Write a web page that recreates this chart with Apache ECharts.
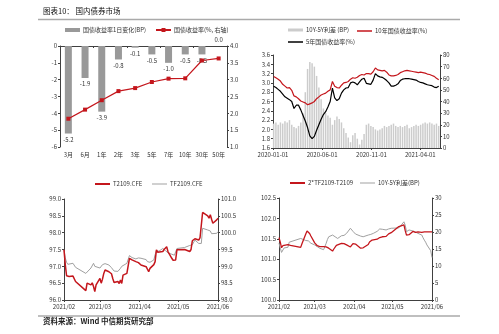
<!DOCTYPE html>
<html><head><meta charset="utf-8">
<script src="https://cdn.jsdelivr.net/npm/echarts@6/dist/echarts.min.js"></script>
<style>html,body{margin:0;padding:0;background:#fff}#c{width:499px;height:334px}</style>
</head><body><div id="c"></div>
<script>
// ---------- Panel 1: yield curve ----------
const tenors = ['3月','6月','1年','2年','3年','5年','7年','10年','30年','50年'];
const bpChange = [-5.2,-1.9,-3.9,-0.8,-0.1,-0.5,-1.0,-0.5,-0.5,0.0];
const yieldPct = [1.84,2.11,2.39,2.66,2.75,2.93,3.03,3.04,3.57,3.63];

// ---------- Panel 2: weekly 2020-01 .. 2021-05 ----------
const weeks = ['2020-01-03','2020-01-10','2020-01-17','2020-01-24','2020-01-31','2020-02-07','2020-02-14','2020-02-21','2020-02-28','2020-03-06','2020-03-13','2020-03-20','2020-03-27','2020-04-03','2020-04-10','2020-04-17','2020-04-24','2020-05-01','2020-05-08','2020-05-15','2020-05-22','2020-05-29','2020-06-05','2020-06-12','2020-06-19','2020-06-26','2020-07-03','2020-07-10','2020-07-17','2020-07-24','2020-07-31','2020-08-07','2020-08-14','2020-08-21','2020-08-28','2020-09-04','2020-09-11','2020-09-18','2020-09-25','2020-10-02','2020-10-09','2020-10-16','2020-10-23','2020-10-30','2020-11-06','2020-11-13','2020-11-20','2020-11-27','2020-12-04','2020-12-11','2020-12-18','2020-12-25','2021-01-01','2021-01-08','2021-01-15','2021-01-22','2021-01-29','2021-02-05','2021-02-12','2021-02-19','2021-02-26','2021-03-05','2021-03-12','2021-03-19','2021-03-26','2021-04-02','2021-04-09','2021-04-16','2021-04-23','2021-04-30','2021-05-07','2021-05-14','2021-05-21','2021-05-28'];
const y10 = [3.14,3.11,3.08,3.04,2.97,2.93,2.89,2.90,2.84,2.72,2.70,2.66,2.61,2.59,2.57,2.53,2.55,2.57,2.60,2.66,2.70,2.74,2.76,2.78,2.82,2.85,3.03,2.93,2.90,2.89,2.95,3.00,3.01,3.03,3.08,3.11,3.10,3.12,3.16,3.18,3.17,3.20,3.20,3.19,3.24,3.32,3.28,3.27,3.26,3.27,3.23,3.17,3.15,3.15,3.16,3.18,3.22,3.24,3.26,3.27,3.26,3.25,3.24,3.23,3.22,3.23,3.22,3.21,3.19,3.18,3.16,3.14,3.10,3.07];
const y5 = [2.93,2.90,2.86,2.82,2.76,2.70,2.67,2.64,2.60,2.45,2.52,2.52,2.42,2.30,2.18,2.04,1.86,1.80,1.85,1.98,2.10,2.22,2.32,2.38,2.48,2.60,2.89,2.68,2.62,2.66,2.78,2.85,2.89,2.90,3.00,3.02,3.00,2.96,3.02,3.08,3.10,2.99,2.98,2.97,3.06,3.20,3.15,3.13,3.12,3.09,3.05,3.00,2.93,2.93,2.95,2.98,3.05,3.08,3.09,3.09,3.09,3.08,3.07,3.06,3.03,3.01,3.00,2.98,2.96,2.95,2.94,2.91,2.90,2.93];
const spreadBp = [21,22,20,22,21,23,22,24,20,18,17,19,22,30,48,68,74,73,70,62,52,42,34,30,28,26,20,24,27,25,22,17,13,9,5,11,13,8,3,7,12,20,21,19,18,16,15,16,17,19,18,19,20,21,19,18,19,18,19,20,17,18,19,20,19,20,21,22,21,22,21,20,21,19];

// ---------- Panels 3 & 4: daily 2021-02 .. 2021-06 ----------
const days = ['2021-02-01','2021-02-02','2021-02-03','2021-02-04','2021-02-05','2021-02-08','2021-02-09','2021-02-10','2021-02-18','2021-02-19','2021-02-22','2021-02-23','2021-02-24','2021-02-25','2021-02-26',
'2021-03-01','2021-03-02','2021-03-03','2021-03-04','2021-03-05','2021-03-08','2021-03-09','2021-03-10','2021-03-11','2021-03-12','2021-03-15','2021-03-16','2021-03-17','2021-03-18','2021-03-19','2021-03-22','2021-03-23','2021-03-24','2021-03-25','2021-03-26','2021-03-29','2021-03-30','2021-03-31',
'2021-04-01','2021-04-02','2021-04-06','2021-04-07','2021-04-08','2021-04-09','2021-04-12','2021-04-13','2021-04-14','2021-04-15','2021-04-16','2021-04-19','2021-04-20','2021-04-21','2021-04-22','2021-04-23','2021-04-26','2021-04-27','2021-04-28','2021-04-29','2021-04-30',
'2021-05-06','2021-05-07','2021-05-10','2021-05-11','2021-05-12','2021-05-13','2021-05-14','2021-05-17','2021-05-18','2021-05-19','2021-05-20','2021-05-21','2021-05-24','2021-05-25','2021-05-26','2021-05-27','2021-05-28','2021-05-31','2021-06-01'];
const t2109 = [97.49,97.05,96.72,96.69,96.70,96.71,96.74,96.55,96.28,96.50,96.45,96.51,96.40,96.25,96.45,
96.64,96.50,96.62,96.79,96.89,96.84,96.89,96.78,96.64,96.52,96.55,96.49,96.59,96.49,96.74,96.79,96.80,97.24,97.20,97.19,97.14,97.09,97.11,
97.09,97.04,96.99,96.95,96.84,96.94,97.05,97.14,97.49,97.42,97.39,97.44,97.50,97.55,97.58,97.44,97.24,97.18,97.14,97.19,97.49,
97.50,97.53,97.44,97.50,97.76,97.80,97.82,97.78,97.85,97.80,98.60,98.58,98.50,98.43,98.53,98.40,98.28,98.38,98.43];
const tf2109 = [99.49,99.25,99.12,99.06,99.04,99.09,99.05,98.97,98.79,98.84,98.95,98.98,99.09,99.00,99.04,
98.95,99.00,99.05,99.09,99.08,99.04,99.00,98.96,98.92,98.86,98.85,98.88,98.94,99.00,99.04,99.09,99.10,99.32,99.28,99.26,99.22,99.24,99.25,
99.26,99.24,99.20,99.14,99.10,99.12,99.19,99.35,99.46,99.44,99.45,99.53,99.49,99.47,99.44,99.40,99.36,99.34,99.33,99.38,99.53,
99.56,99.58,99.62,99.63,99.64,99.66,99.78,99.68,99.69,99.68,100.13,100.10,100.08,100.06,100.05,99.97,99.93,99.98,100.03];
const basisSpread = [101.53,101.42,101.28,101.33,101.35,101.36,101.35,101.34,101.29,101.38,101.62,101.69,101.68,101.63,101.57,
101.40,101.36,101.33,101.31,101.31,101.31,101.31,101.30,101.28,101.27,101.20,101.25,101.29,101.34,101.36,101.39,101.37,101.38,101.36,101.35,101.30,101.33,101.38,
101.39,101.37,101.27,101.27,101.28,101.30,101.36,101.42,101.44,101.47,101.46,101.49,101.51,101.53,101.55,101.55,101.56,101.59,101.62,101.66,101.65,
101.80,101.82,101.84,101.70,101.59,101.58,101.60,101.68,101.70,101.66,101.68,101.67,101.66,101.66,101.67,101.67,101.67,101.67,101.67];
const spreadDaily = [16.7,15.3,14.0,14.5,15.3,15.5,17.0,17.5,18.1,18.0,17.5,17.2,17.4,16.9,16.7,
16.2,16.0,15.7,15.4,15.2,14.8,15.0,16.7,17.8,18.6,19.1,18.8,18.6,18.3,18.1,18.9,18.8,19.0,19.4,19.6,21.1,20.6,20.2,
20.0,19.4,18.8,18.6,18.6,18.7,19.1,19.2,19.3,19.5,19.6,20.2,20.5,20.9,20.9,20.8,20.6,20.8,20.9,21.0,21.1,
21.2,21.3,23.0,22.0,20.1,20.0,20.6,20.3,19.9,20.0,20.0,19.6,19.1,18.3,17.6,17.0,16.2,14.5,12.5];

const ticks2 = ['2020-01-01','2020-06-01','2020-11-01','2021-04-01'];
const ticks34 = ['2021-02-01','2021-03-01','2021-04-01','2021-05-01','2021-06-01'];

// ---------- helpers ----------
const FF = '"Noto Sans CJK SC", "DejaVu Sans", sans-serif';
const RED = '#c4161c', AX = '#404040', TXT = '#333';
const ts = s => { const p = s.split('-'); return Date.UTC(+p[0], +p[1]-1, +p[2]); };
const zip = (xs, ys) => xs.map((x, i) => [ts(x), ys[i]]);
const pad = n => (n < 10 ? '0' : '') + n;

function valAxis(grid, pos, min, max, interval, dec) {
  return {type:'value', gridIndex:grid, position:pos, min, max, interval,
    splitLine:{show:false},
    axisLine:{show:true, onZero:false, lineStyle:{color:AX, width:1}},
    axisTick:{show:true, length:2, lineStyle:{color:AX}},
    axisLabel:{fontSize:6, color:TXT, margin:3, fontFamily:FF, formatter:v => v.toFixed(dec)}};
}
// date axis drawn as a numeric (timestamp) axis with ticks at given dates
function dateAxis(grid, min, max, tickDates, fmt) {
  const cv = tickDates.map(ts);
  return {type:'value', gridIndex:grid, min:ts(min), max:ts(max), scale:true,
    splitLine:{show:false},
    axisLine:{show:true, onZero:false, lineStyle:{color:AX, width:1}},
    axisTick:{show:true, length:2, customValues:cv, lineStyle:{color:AX}},
    axisLabel:{fontSize:6, color:TXT, margin:4, fontFamily:FF, customValues:cv, hideOverlap:false,
      showMinLabel:true, showMaxLabel:true, formatter:fmt}};
}
const fmtDash = v => { const d = new Date(v); return d.getUTCFullYear() + '-' + pad(d.getUTCMonth()+1) + '-' + pad(d.getUTCDate()); };
const fmtSlash = v => { const d = new Date(v); return d.getUTCFullYear() + '/' + pad(d.getUTCMonth()+1); };

function leg(name, left, top, icon, h) {
  const item = {name}; if (icon) item.icon = icon;
  return {data:[item], left, top, padding:0, itemGap:0, itemWidth:15, itemHeight:h,
    selectedMode:false,
    textStyle:{fontSize:6, color:TXT, fontFamily:FF, padding:[0,0,0,-2]}};
}
const lineSeries = (name, xi, yi, data, color, width) => ({
  name, type:'line', xAxisIndex:xi, yAxisIndex:yi, data, showSymbol:false, symbol:'none',
  lineStyle:{color, width}, itemStyle:{color}, animation:false});

const barItems = bpChange.map(v => v >= 0
  ? {value:v, label:{position:'top'}}
  : {value:v});

const option = {
  backgroundColor:'#fff',
  animation:false,
  textStyle:{fontFamily:FF},
  grid:[
    {left:60, top:46, width:167, height:101},
    {left:273, top:55, width:167, height:93},
    {left:64, top:199, width:154, height:101},
    {left:279, top:198, width:153, height:102}
  ],
  xAxis:[
    {type:'category', gridIndex:0, position:'bottom', data:tenors,
      axisLine:{show:false}, axisTick:{show:false},
      axisLabel:{fontSize:6, color:TXT, margin:5, fontFamily:FF, interval:0}},
    {type:'category', gridIndex:0, position:'top', data:tenors,
      axisLine:{show:true, onZero:false, lineStyle:{color:AX}},
      axisTick:{show:true, inside:true, length:2, lineStyle:{color:AX}},
      axisLabel:{show:false}},
    dateAxis(1, '2020-01-01', '2021-06-01', ticks2, fmtDash),
    dateAxis(2, '2021-02-01', '2021-06-01', ticks34, fmtSlash),
    dateAxis(3, '2021-02-01', '2021-06-01', ticks34, fmtSlash)
  ],
  yAxis:[
    valAxis(0, 'left', -6, 0, 1, 0),
    valAxis(0, 'right', 1, 4, 0.5, 1),
    valAxis(1, 'left', 1.6, 3.6, 0.2, 1),
    valAxis(1, 'right', 0, 80, 10, 0),
    valAxis(2, 'left', 96, 99, 0.5, 1),
    valAxis(2, 'right', 98, 101, 0.5, 1),
    valAxis(3, 'left', 100, 102.5, 0.5, 1),
    valAxis(3, 'right', 0, 30, 5, 0)
  ],
  legend:[
    leg('国债收益率1日变化(BP)', 65, 27, 'rect', 4),
    leg('国债收益率(%, 右轴)', 155, 27, null, 5),
    leg('10Y-5Y利差 (BP)', 288, 27, 'rect', 3),
    leg('10年国债收益率(%)', 357, 28, 'rect', 1.5),
    leg('5年国债收益率(%)', 288, 39, 'rect', 1.5),
    leg('T2109.CFE', 95, 181, 'rect', 2),
    leg('TF2109.CFE', 152, 181, 'rect', 1),
    leg('2*TF2109-T2109', 290, 180, 'rect', 2),
    leg('10Y-5Y利差(BP)', 360, 180, 'rect', 1)
  ],
  series:[
    {name:'国债收益率1日变化(BP)', type:'bar', xAxisIndex:0, yAxisIndex:0, barWidth:7,
      itemStyle:{color:'#999999'},
      data:barItems,
      label:{show:true, position:'outside', distance:3, fontSize:6, color:TXT, fontFamily:FF,
        formatter:p => Number(p.value).toFixed(1)}},
    {name:'国债收益率(%, 右轴)', type:'line', xAxisIndex:0, yAxisIndex:1, data:yieldPct,
      symbol:'rect', symbolSize:4, lineStyle:{color:RED, width:1.2}, itemStyle:{color:RED}},
    {name:'10Y-5Y利差 (BP)', type:'bar', xAxisIndex:2, yAxisIndex:3, barWidth:1.5,
      data:zip(weeks, spreadBp), itemStyle:{color:'#cccccc'}},
    lineSeries('10年国债收益率(%)', 2, 2, zip(weeks, y10), RED, 1.2),
    lineSeries('5年国债收益率(%)', 2, 2, zip(weeks, y5), '#000000', 1.2),
    lineSeries('TF2109.CFE', 3, 5, zip(days, tf2109), '#a0a0a0', 1),
    lineSeries('T2109.CFE', 3, 4, zip(days, t2109), RED, 1.5),
    lineSeries('10Y-5Y利差(BP)', 4, 7, zip(days, spreadDaily), '#a0a0a0', 1),
    lineSeries('2*TF2109-T2109', 4, 6, zip(days, basisSpread), RED, 1.3)
  ],
  graphic:[
    {type:'text', left:43, top:7, style:{text:'图表10： 国内债券市场', font:'7.5px ' + FF, fill:'#111'}},
    {type:'line', shape:{x1:38, y1:19.5, x2:460, y2:19.5}, style:{stroke:'#aaaaaa', lineWidth:1.5}},
    {type:'line', shape:{x1:38, y1:316, x2:460, y2:316}, style:{stroke:'#aaaaaa', lineWidth:1.5}},
    {type:'text', left:43, top:317, style:{text:'资料来源：Wind 中信期货研究部', font:'bold 7.5px ' + FF, fill:'#222'}}
  ]
};
const chart = echarts.init(document.getElementById('c'), null, {renderer:'canvas'});
chart.setOption(option);
</script></body></html>
